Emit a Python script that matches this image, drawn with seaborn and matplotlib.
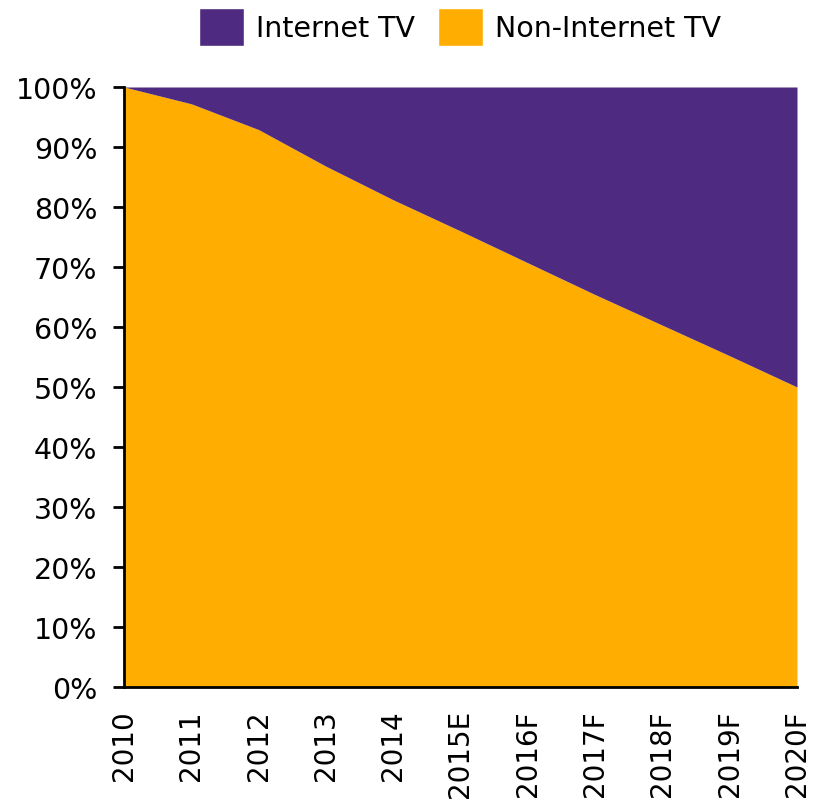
import matplotlib
matplotlib.use("Agg")
import matplotlib.pyplot as plt
import seaborn as sns
import numpy as np
from matplotlib.patches import Patch

years = ["2010", "2011", "2012", "2013", "2014", "2015E", "2016F", "2017F", "2018F", "2019F", "2020F"]
non_internet_tv = [100.0, 97.2, 92.9, 86.8, 81.2, 76.0, 70.7, 65.4, 60.3, 55.2, 50.0]
internet_tv = [100.0 - v for v in non_internet_tv]
y_ticks = [0, 10, 20, 30, 40, 50, 60, 70, 80, 90, 100]

sns.set_style("white")
plt.rcParams['font.family'] = ['DejaVu Sans']
plt.rcParams['text.color'] = 'black'
plt.rcParams['xtick.color'] = 'black'
plt.rcParams['ytick.color'] = 'black'

purple = "#4E2B80"
orange = "#FFAD00"

fig = plt.figure(figsize=(8.14, 8.04), dpi=100)
ax = fig.add_axes([124/814, 1 - 688/804, (797-124)/814, (688-88)/804])

x = np.arange(len(years))
ax.stackplot(x, non_internet_tv, internet_tv, colors=[orange, purple], linewidth=0)

ax.set_xlim(0, len(years) - 1)
ax.set_ylim(0, 100)
ax.set_yticks(y_ticks)
ax.set_yticklabels([f"{t}%" for t in y_ticks], fontsize=20.5)
ax.set_xticks(x)
ax.set_xticklabels(years, rotation=90, fontsize=20)
ax.tick_params(axis='y', length=8, width=2, color='black', labelcolor='black', direction='out', left=True, pad=11)
ax.tick_params(axis='x', length=0, pad=16, labelcolor='black')

for s in ["top", "right"]:
    ax.spines[s].set_visible(False)
for s in ["left", "bottom"]:
    ax.spines[s].set_visible(True)
    ax.spines[s].set_color("black")
    ax.spines[s].set_linewidth(2)

handles = [Patch(facecolor=purple, label="Internet TV"), Patch(facecolor=orange, label="Non-Internet TV")]
fig.legend(handles=handles, loc="center", bbox_to_anchor=(460/814, 1 - 28/804), ncol=2, frameon=False,
           fontsize=20.5, handlelength=1.58, handleheight=1.65, handletextpad=0.42, columnspacing=0.8,
           labelcolor='black', borderpad=0)

fig.savefig("out.png", dpi=100)
